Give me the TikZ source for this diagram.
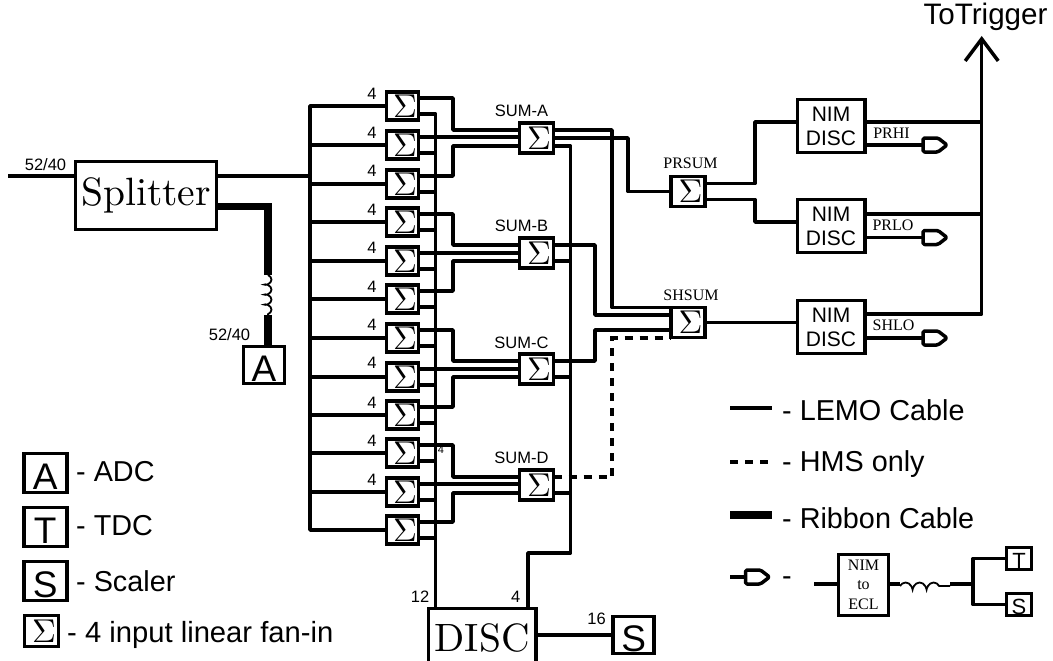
\documentclass[tikz,border=0pt]{standalone}
\usepackage[no-math]{fontspec}
\newfontfamily\arialfont{Liberation Sans}
\newfontfamily\timesfont{Liberation Serif}
\usetikzlibrary{calc,arrows.meta,decorations.pathmorphing}
% Sigma legerement decale vers la droite dans sa boite
\newcommand{\somme}{\kern5pt\scalebox{3.3}{$\Sigma$}}
% Texte romain agrandi
\newcommand{\grand}[1]{\scalebox{3.95}{#1}}
% Porte de sortie NIM vers ECL
\newcommand{\porte}[1]{\draw[cable, rounded corners=1.5pt] (#1) -- ++(0,-7) -- ++(15,0) -- ++(9,7) -- ++(-9,7) -- ++(-15,0) -- cycle;}
\tikzset{
    cable/.style={line width=3.5pt, line join=round},
    ruban/.style={line width=7.5pt},
    tirets/.style={line width=3.6pt, dash pattern=on 8pt off 7pt},
    bobine/.style={line width=1.8pt, decorate, decoration={coil, aspect=0.6, segment length=#1, amplitude=3.5pt}},
    boite/.style={draw, line width=3.5pt, inner sep=0pt, outer sep=0pt, fill=white},
    fanbox/.style={boite, minimum width=32pt, minimum height=28pt},
    sumbox/.style={boite, minimum width=34pt, minimum height=30pt},
    nimbox/.style={boite, minimum width=67.5pt, minimum height=53pt, align=center, font=\arialfont\fontsize{21}{24}\selectfont},
    lettre/.style={boite, minimum width=41pt, minimum height=37pt, text height=33.5pt, text depth=0pt, font=\arialfont\fontsize{37}{38}\selectfont},
    minilettre/.style={boite, minimum width=25pt, minimum height=22pt, text height=20pt, text depth=0pt, font=\arialfont\fontsize{22}{22}\selectfont},
    grandbox/.style={boite},
    petit/.style={font=\arialfont\fontsize{16.5}{18}\selectfont, inner sep=0pt},
    serif/.style={font=\timesfont\fontsize{16}{18}\selectfont, inner sep=0pt},
    legende/.style={font=\arialfont\fontsize{28.8}{32}\selectfont, inner sep=0pt, anchor=west}
}
\begin{document}
\begin{tikzpicture}[x=1pt, y=-1pt]
    \useasboundingbox (0,0) rectangle (1053,661);

    % Points libres et bus
    \coordinate (Entree) at (8,176);
    \coordinate (BusG) at (310,530);
    \coordinate (BusD) at (435.7,608);
    \coordinate (BusS) at (570.5,553);
    \coordinate (Retour) at (528,608);
    \coordinate (Trig) at (981.7,36);
    \coordinate (Bob1) at (268,275);
    \coordinate (Bob2) at (268,315);

    % Boites principales
    \node[grandbox, minimum width=141pt, minimum height=68pt] (Splitter) at (146,195.5) {\grand{Splitter}};
    \node[lettre] (Adc) at (264,365) {A};
    \node[grandbox, minimum width=107.5pt, minimum height=60pt] (Disc) at (482.2,638.5) {\grand{DISC}};
    \node[lettre] (Scaler) at (633.7,635) {S};

    % Fan-in a 4 entrees
    \node[fanbox] (S1) at (402.5,106) {\somme};
    \node[fanbox] (S2) at (402.5,145) {\somme};
    \node[fanbox] (S3) at (402.5,184) {\somme};
    \node[fanbox] (S4) at (402.5,222) {\somme};
    \node[fanbox] (S5) at (402.5,261) {\somme};
    \node[fanbox] (S6) at (402.5,299) {\somme};
    \node[fanbox] (S7) at (402.5,338) {\somme};
    \node[fanbox] (S8) at (402.5,377) {\somme};
    \node[fanbox] (S9) at (402.5,415) {\somme};
    \node[fanbox] (S10) at (402.5,453) {\somme};
    \node[fanbox] (S11) at (402.5,492) {\somme};
    \node[fanbox] (S12) at (402.5,530) {\somme};

    % Sommes de groupes
    \node[sumbox] (SumA) at (536.5,138) {\somme};
    \node[sumbox] (SumB) at (536.5,253) {\somme};
    \node[sumbox] (SumC) at (536.5,369) {\somme};
    \node[sumbox] (SumD) at (536.5,485) {\somme};
    \node[sumbox] (PrSum) at (688,191.5) {\somme};
    \node[sumbox] (ShSum) at (688,322.5) {\somme};

    % Discriminateurs
    \node[nimbox] (Nim1) at (831,126) {NIM\\DISC};
    \node[nimbox] (Nim2) at (831,226) {NIM\\DISC};
    \node[nimbox] (Nim3) at (831,327) {NIM\\DISC};

    % Entree et cable plat
    \draw[cable] (Entree) -- (Entree -| Splitter.west);
    \draw[cable] (Entree -| Splitter.east) -- (Entree -| BusG);
    \draw[ruban] ([yshift=-11pt]Splitter.east) -| (Bob1);
    \draw[bobine=10pt] (Bob1) -- (Bob2);
    \draw[ruban] (Bob2) -- (Bob2 |- Adc.north);

    % Bus gauche
    \draw[cable] (S1.west) -| (BusG) -- (S12.west);
    \draw[cable] (S2.west) -- (S2.west -| BusG);
    \draw[cable] (S3.west) -- (S3.west -| BusG);
    \draw[cable] (S4.west) -- (S4.west -| BusG);
    \draw[cable] (S5.west) -- (S5.west -| BusG);
    \draw[cable] (S6.west) -- (S6.west -| BusG);
    \draw[cable] (S7.west) -- (S7.west -| BusG);
    \draw[cable] (S8.west) -- (S8.west -| BusG);
    \draw[cable] (S9.west) -- (S9.west -| BusG);
    \draw[cable] (S10.west) -- (S10.west -| BusG);
    \draw[cable] (S11.west) -- (S11.west -| BusG);

    % Bus vers le DISC
    \draw[cable] ([yshift=-8pt]S1.east) -| (BusD);
    \draw[cable] ([yshift=-8pt]S2.east) -- ([yshift=-8pt]S2.east -| BusD);
    \draw[cable] ([yshift=-8pt]S3.east) -- ([yshift=-8pt]S3.east -| BusD);
    \draw[cable] ([yshift=-8pt]S4.east) -- ([yshift=-8pt]S4.east -| BusD);
    \draw[cable] ([yshift=-8pt]S5.east) -- ([yshift=-8pt]S5.east -| BusD);
    \draw[cable] ([yshift=-8pt]S6.east) -- ([yshift=-8pt]S6.east -| BusD);
    \draw[cable] ([yshift=-8pt]S7.east) -- ([yshift=-8pt]S7.east -| BusD);
    \draw[cable] ([yshift=-8pt]S8.east) -- ([yshift=-8pt]S8.east -| BusD);
    \draw[cable] ([yshift=-8pt]S9.east) -- ([yshift=-8pt]S9.east -| BusD);
    \draw[cable] ([yshift=-8pt]S10.east) -- ([yshift=-8pt]S10.east -| BusD);
    \draw[cable] ([yshift=-8pt]S11.east) -- ([yshift=-8pt]S11.east -| BusD);
    \draw[cable] ([yshift=-8pt]S12.east) -- ([yshift=-8pt]S12.east -| BusD);

    % Vers les sommes de groupes
    \draw[cable] ([yshift=8pt]S1.east) -- ++(34.5,0) |- ([yshift=8pt]SumA.west);
    \draw[cable] ([yshift=8pt]S2.east) -- ([yshift=8pt]S2.east -| SumA.west);
    \draw[cable] ([yshift=8pt]S3.east) -- ++(34.5,0) |- ([yshift=-8pt]SumA.west);
    \draw[cable] ([yshift=8pt]S4.east) -- ++(34.5,0) |- ([yshift=8pt]SumB.west);
    \draw[cable] ([yshift=8pt]S5.east) -- ([yshift=8pt]S5.east -| SumB.west);
    \draw[cable] ([yshift=8pt]S6.east) -- ++(34.5,0) |- ([yshift=-8pt]SumB.west);
    \draw[cable] ([yshift=8pt]S7.east) -- ++(34.5,0) |- ([yshift=8pt]SumC.west);
    \draw[cable] ([yshift=8pt]S8.east) -- ([yshift=8pt]S8.east -| SumC.west);
    \draw[cable] ([yshift=8pt]S9.east) -- ++(34.5,0) |- ([yshift=-8pt]SumC.west);
    \draw[cable] ([yshift=8pt]S10.east) -- ++(34.5,0) |- ([yshift=8pt]SumD.west);
    \draw[cable] ([yshift=8pt]S11.east) -- ([yshift=8pt]S11.east -| SumD.west);
    \draw[cable] ([yshift=8pt]S12.east) -- ++(34.5,0) |- ([yshift=-8pt]SumD.west);

    % Sorties des sommes de groupes
    \draw[cable] ([yshift=8pt]SumA.east) -- ++(58.5,0) |- ([yshift=15pt]ShSum.west);
    \draw[cable] (SumA.east) -- ++(74.5,0) |- (PrSum.west);
    \draw[cable] ([yshift=-8pt]SumA.east) -| (BusS) -| (Retour);
    \draw[cable] ([yshift=8pt]SumB.east) -- ++(41.5,0) |- ([yshift=7.5pt]ShSum.west);
    \draw[cable] ([yshift=-8pt]SumB.east) -- ([yshift=-8pt]SumB.east -| BusS);
    \draw[cable] ([yshift=8pt]SumC.east) -- ++(41.5,0) |- ([yshift=-7.5pt]ShSum.west);
    \draw[cable] ([yshift=-8pt]SumC.east) -- ([yshift=-8pt]SumC.east -| BusS);
    \draw[tirets] ([yshift=8pt]SumD.east) -- ++(58.5,0) |- ([yshift=-15.5pt]ShSum.west);
    \draw[cable] ([yshift=-8pt]SumD.east) -- ([yshift=-8pt]SumD.east -| BusS);

    % Vers les discriminateurs
    \draw[cable] ([yshift=8pt]PrSum.east) -- ++(50,0) |- ([yshift=4pt]Nim1.west);
    \draw[cable] ([yshift=-8pt]PrSum.east) -- ++(50,0) |- ([yshift=4pt]Nim2.west);
    \draw[cable] (ShSum.east) -- (ShSum.east -| Nim3.west);

    % Sorties vers le trigger
    \draw[cable, -{Straight Barb[length=22pt, width=33pt, line width=3.5pt]}] ([yshift=13pt]Nim3.east) -| (Trig);
    \draw[cable] ([yshift=4pt]Nim1.east) -- ([yshift=4pt]Nim1.east -| Trig);
    \draw[cable] ([yshift=12pt]Nim2.east) -- ([yshift=12pt]Nim2.east -| Trig);

    % Sorties ECL
    \coordinate (G1) at (923,145);
    \coordinate (G2) at (923,237.5);
    \coordinate (G3) at (923,338);
    \draw[cable] (G1 -| Nim1.east) -- (G1);
    \draw[cable] (G2 -| Nim2.east) -- (G2);
    \draw[cable] (G3 -| Nim3.east) -- (G3);
    \porte{G1}
    \porte{G2}
    \porte{G3}

    % Vers le DISC et le scaler
    \draw[cable] (Disc.east |- Scaler.west) -- (Scaler.west);

    % Etiquettes
    \node[petit] (LabIn) at (45.5,165) {52/40};
    \node[petit] (LabAdc) at (229.5,335) {52/40};
    \node[petit] (Lab1) at (372,94) {4};
    \node[petit] (Lab2) at (372,133) {4};
    \node[petit] (Lab3) at (372,171) {4};
    \node[petit] (Lab4) at (372,210) {4};
    \node[petit] (Lab5) at (372,248) {4};
    \node[petit] (Lab6) at (372,287) {4};
    \node[petit] (Lab7) at (372,325) {4};
    \node[petit] (Lab8) at (372,363) {4};
    \node[petit] (Lab9) at (372,403) {4};
    \node[petit] (Lab10) at (372,441) {4};
    \node[petit] (Lab11) at (372,480) {4};
    \node[petit, font=\arialfont\fontsize{11}{12}\selectfont] (LabX) at (441,450) {4};
    \node[petit] (LabA) at (521.5,111) {SUM-A};
    \node[petit] (LabB) at (521.5,226) {SUM-B};
    \node[petit] (LabC) at (521.5,343) {SUM-C};
    \node[petit] (LabD) at (521.5,458) {SUM-D};
    \node[serif] (LabPr) at (690.5,163) {PRSUM};
    \node[serif] (LabSh) at (691,295) {SHSUM};
    \node[serif] (LabHi) at (891.5,133) {PRHI};
    \node[serif] (LabLo) at (893,225) {PRLO};
    \node[serif] (LabShlo) at (893.5,325) {SHLO};
    \node[petit] (Lab12) at (420,597) {12};
    \node[petit] (Lab4b) at (515.7,597) {4};
    \node[petit] (Lab16) at (596.5,619) {16};
    \node[font=\arialfont\fontsize{29.6}{32}\selectfont, inner sep=0pt] (LabTrig) at (985.5,17) {ToTrigger};

    % Legende de gauche
    \node[lettre, minimum width=43pt, minimum height=39pt] (LegA) at (45.3,473) {A};
    \node[lettre, minimum width=43pt, minimum height=39pt] (LegT) at (45.3,527) {T};
    \node[lettre, minimum width=43pt, minimum height=39pt] (LegS) at (45.3,581) {S};
    \node[fanbox, minimum width=34pt, minimum height=31pt] (LegF) at (41.5,631) {\somme};
    \node[legende] (TxtA) at (76,472) {- ADC};
    \node[legende] (TxtT) at (76,526) {- TDC};
    \node[legende] (TxtS) at (76,581) {- Scaler};
    \node[legende, font=\arialfont\fontsize{29.2}{32}\selectfont] (TxtF) at (67,635) {- 4 input linear fan-in};

    % Legende de droite
    \coordinate (L1a) at (730,408);
    \coordinate (L1b) at (772,408);
    \coordinate (L2a) at (730,462);
    \coordinate (L2b) at (773,462);
    \coordinate (L3a) at (730,515);
    \coordinate (L3b) at (772,515);
    \coordinate (L4a) at (730,577);
    \coordinate (G4) at (745.5,577);
    \coordinate (L5a) at (814,584);
    \coordinate (Bob3) at (900,586);
    \coordinate (Bob4) at (950,586);
    \coordinate (Fourche) at (973,584);
    \draw[cable] (L1a) -- (L1b);
    \draw[tirets] (L2a) -- (L2b);
    \draw[ruban] (L3a) -- (L3b);
    \draw[cable] (L4a) -- (G4);
    \porte{G4}
    \node[legende] (TxtL) at (782,410) {- LEMO Cable};
    \node[legende] (TxtH) at (782,464) {- HMS only};
    \node[legende] (TxtR) at (782,518) {- Ribbon Cable};
    \node[legende] (TxtP) at (782,581) {-};
    \node[boite, minimum width=50pt, minimum height=61pt] (Conv) at (863.5,585) {};
    \node[serif] (TxtNim) at (863.5,565) {NIM};
    \node[serif] (TxtTo) at (863.5,585) {to};
    \node[serif] (TxtEcl) at (863.5,604) {ECL};
    \node[minilettre] (PetitT) at (1019,558.5) {T};
    \node[minilettre] (PetitS) at (1019,604.5) {S};
    \draw[cable] (L5a) -- (Conv.west |- L5a);
    \draw[cable] (Conv.east |- L5a) -- (L5a -| Bob3);
    \draw[bobine=14pt] (Bob3) -- (Bob4);
    \draw[cable] (L5a -| Bob4) -- (Fourche);
    \draw[cable] (PetitT.west) -| (Fourche) |- (PetitS.west);
\end{tikzpicture}
\end{document}
